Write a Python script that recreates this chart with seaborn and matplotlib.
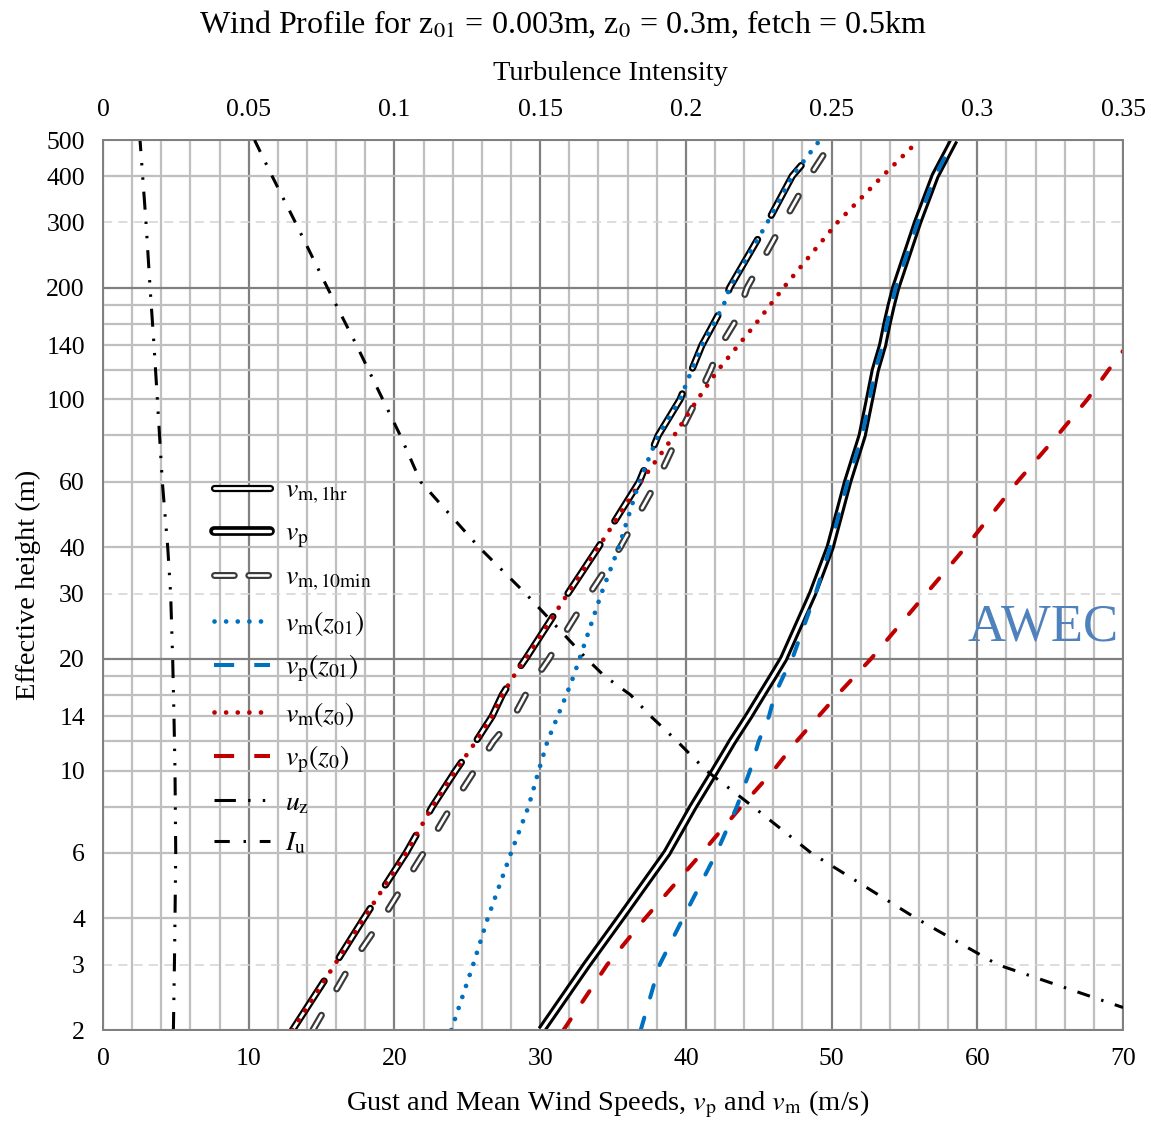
import numpy as np
import pandas as pd
import matplotlib
matplotlib.use("Agg")
import matplotlib.pyplot as plt
import matplotlib.patheffects as pe
from matplotlib.lines import Line2D
import seaborn as sns

# ---------------- data ----------------
z_grid = [2, 3, 4, 6, 8, 10, 12, 14, 16, 18, 20, 30, 40, 60, 80, 100,
          120, 140, 160, 180, 200, 300, 400, 500]

vm_z0 = [13.0, 15.9, 17.9, 20.8, 22.6, 24.2, 25.6, 26.7, 27.4, 28.2, 29.0,
         31.9, 34.0, 36.9, 39.2, 40.8, 42.2, 43.6, 44.8, 45.8, 46.7, 50.4,
         53.5, 56.0]
vm_z01 = [23.9, 25.4, 26.4, 28.0, 29.2, 29.9, 30.5, 31.2, 31.8, 32.3, 32.7,
          34.2, 35.4, 36.8, 38.1, 39.6, 40.4, 41.1, 41.9, 42.6, 43.0, 45.6,
          47.3, 49.2]
z_1hr = [2, 3, 4, 6, 8, 10, 12, 14, 16, 18, 20, 30, 40, 60, 80, 100,
         120, 140, 160, 180, 200, 300, 400, 440]
vm_1hr = [13.0, 15.9, 17.9, 20.8, 22.6, 24.2, 25.6, 26.7, 27.4, 28.2, 29.0,
          31.9, 34.0, 36.8, 38.1, 39.6, 40.4, 41.1, 41.9, 42.6, 43.0, 45.6,
          47.3, 48.2]
vm_10min = [14.4, 17.0, 19.2, 22.0, 23.9, 25.5, 26.8, 28.2, 29.0, 29.8, 30.6,
            33.4, 35.5, 38.0, 39.5, 40.75, 41.7, 42.4, 43.3, 43.8, 44.2, 46.7,
            48.5, 50.1]
vp = [30.1, 33.2, 35.5, 38.7, 40.5, 42.0, 43.2, 44.3, 45.2, 46.0, 46.7,
      48.7, 49.9, 51.1, 52.1, 52.6, 53.0, 53.5, 53.8, 54.1, 54.4, 55.9,
      57.1, 58.4]
vp_z01 = [36.9, 38.2, 39.8, 42.1, 43.5, 44.4, 45.0, 45.7, 46.1, 46.7, 47.3,
          48.9, 49.9, 51.1, 52.1, 52.6, 53.0, 53.5, 53.8, 54.1, 54.4, 55.9,
          57.1, 58.4]
z_vpz0 = [2, 3, 4, 6, 8, 10, 12, 14, 16, 20, 30, 40, 60, 80, 100, 120, 140]
vp_z0 = [31.6, 34.6, 37.2, 41.1, 43.8, 46.0, 47.6, 49.1, 50.4, 52.7, 56.5,
         59.2, 62.75, 65.5, 67.55, 69.0, 70.3]

z_uz = [2, 3, 4, 6, 10, 14, 20, 30, 40, 60, 100, 140, 200, 300, 400, 500]
u_z = [4.83, 4.90, 4.94, 4.99, 4.94, 4.87, 4.78, 4.64, 4.44, 4.07, 3.73,
       3.50, 3.23, 2.95, 2.72, 2.54]

z_iu = [500, 400, 300, 200, 140, 100, 80, 60, 40, 30, 20, 18, 16, 14, 12,
        10, 8, 6, 4, 3, 2.3]
I_u = [0.052, 0.058, 0.066, 0.077, 0.087, 0.096, 0.102, 0.109, 0.129, 0.145,
       0.166, 0.172, 0.181, 0.188, 0.197, 0.207, 0.223, 0.243, 0.279, 0.307,
       0.350]

y_tick_labels = [2, 3, 4, 6, 10, 14, 20, 30, 40, 60, 100, 140, 200, 300, 400, 500]
y_minor = [8, 12, 16, 18, 80, 120, 160, 180]
x_ticks = [0, 10, 20, 30, 40, 50, 60, 70]
ti_ticks = [0, 0.05, 0.1, 0.15, 0.2, 0.25, 0.3, 0.35]
ti_labels = ["0", "0.05", "0.1", "0.15", "0.2", "0.25", "0.3", "0.35"]

# ---------------- style ----------------
sns.set_theme(style="white")
plt.rcParams["font.family"] = ["Liberation Serif", "DejaVu Serif"]
plt.rcParams["mathtext.fontset"] = "stix"
plt.rcParams["text.color"] = "black"
plt.rcParams["axes.labelcolor"] = "black"
plt.rcParams["xtick.color"] = "black"
plt.rcParams["ytick.color"] = "black"

BLUE = "#0070C0"
RED = "#C00000"
LIGHT = "#BFBFBF"
DARK = "#808080"

fig = plt.figure(figsize=(11.51, 11.24), dpi=100)
ax = fig.add_axes([0.0895, 0.0836, 0.8862, 0.7918])
ax.set_yscale("log")
ax.set_xlim(0, 70)
ax.set_ylim(2, 500)


def hollow(outer, color="black"):
    return [pe.Stroke(linewidth=outer, foreground=color), pe.Normal()]


def line(x, y, **kw):
    df = pd.DataFrame({"x": x, "y": y})
    sns.lineplot(data=df, x="x", y="y", sort=False, estimator=None, ax=ax, **kw)


# hollow black curves
line(vm_10min, z_grid, color="white", lw=1.9, linestyle=(0, (6.5, 11.5)),
     dash_capstyle="round", path_effects=hollow(5.0, "#3A3A3A"), zorder=3)
line(vm_1hr, z_1hr, color="white", lw=2.0, linestyle=(0, (21, 10)),
     dash_capstyle="round", path_effects=hollow(5.2), zorder=3)
line(vp, z_grid, color="white", lw=2.2, path_effects=hollow(6.6),
     solid_capstyle="butt", zorder=3)

# coloured profiles
dot = (0, (0.01, 2.45))
dash = (0, (3.2, 5.2))
line(vm_z0, z_grid, color=RED, lw=3.4, linestyle=dot, dash_capstyle="round", zorder=4)
line(vm_z01, z_grid, color=BLUE, lw=3.4, linestyle=dot, dash_capstyle="round", zorder=4)
line(vp_z0, z_vpz0, color=RED, lw=2.9, linestyle=dash, dash_capstyle="round", zorder=4)
line(vp_z01, z_grid, color=BLUE, lw=2.9, linestyle=dash, dash_capstyle="round", zorder=4)

uz_style = (0, (5.9, 3.9, 0.8, 3.9, 0.8, 3.9))
iu_style = (0, (4.3, 3.9, 0.8, 3.9))
line(u_z, z_uz, color="black", lw=2.2, linestyle=uz_style, zorder=4)

# top axis: turbulence intensity
ax2 = ax.twiny()
ax2.set_xlim(0, 0.35)
df_iu = pd.DataFrame({"x": I_u, "y": z_iu})
sns.lineplot(data=df_iu, x="x", y="y", sort=False, estimator=None, ax=ax2,
             color="black", lw=2.2, linestyle=iu_style, zorder=4)

# ---------------- axes / grid ----------------
ax.set_yticks(y_tick_labels)
ax.set_yticklabels([str(v) for v in y_tick_labels])
ax.set_yticks(y_minor, minor=True)
ax.set_yticklabels([], minor=True)
ax.set_xticks(x_ticks)
ax.set_xticks(np.arange(0, 71, 2), minor=True)
ax.grid(True, which="both", color=LIGHT, lw=1.6)
ax.set_axisbelow(True)

for t, v in zip(ax.yaxis.get_major_ticks(), y_tick_labels):
    gl = t.gridline
    if v in (3, 30, 300):
        gl.set_linestyle((0, (6, 4)))
        gl.set_color("#D3D3D3")
        gl.set_linewidth(1.1)
    elif v in (20, 200):
        gl.set_color(DARK)
        gl.set_linewidth(1.6)
for t in ax.xaxis.get_major_ticks():
    t.gridline.set_color(DARK)
    t.gridline.set_linewidth(1.6)

ax.tick_params(axis="both", which="both", length=0, labelsize=18.5, labelcolor="black")
ax.tick_params(axis="x", pad=13)
ax.tick_params(axis="y", pad=13)
for s in ax.spines.values():
    s.set_color(DARK)
    s.set_linewidth(1.4)

ax2.set_xticks(ti_ticks)
ax2.set_xticklabels(ti_labels)
ax2.tick_params(axis="x", length=0, labelsize=18.5, pad=14, labelcolor="black")
ax2.grid(False)
for s in ax2.spines.values():
    s.set_color(DARK)
    s.set_linewidth(1.4)
ax2.set_ylim(2, 500)

ax.set_xlabel("Gust and Mean Wind Speeds, $v_\\mathrm{p}$ and $v_\\mathrm{m}$ (m/s)",
              fontsize=20.5, color="black")
ax.xaxis.set_label_coords(0.495, -0.084)
ax.xaxis.label.set_va("center")
ax.set_ylabel("Effective height (m)", fontsize=20.5, color="black")
ax.yaxis.set_label_coords(-0.073, 0.5)
ax.yaxis.label.set_va("center")
ax2.set_xlabel("Turbulence Intensity", fontsize=20.5, color="black")
ax2.xaxis.set_label_coords(0.497, 1.075)
ax2.xaxis.label.set_va("center")
ax2.set_ylabel("")

fig.text(0.489, 0.978, "Wind Profile for z$_{01}$ = 0.003m, z$_{0}$ = 0.3m, fetch = 0.5km",
         ha="center", va="center", fontsize=23, color="black")

ax.text(0.9216, 0.452, "AWEC", transform=ax.transAxes, ha="center", va="center",
        fontsize=38, color="#4F81BD", zorder=5)

# ---------------- legend ----------------
handles = [
    Line2D([], [], color="white", lw=2.0, path_effects=hollow(5.2), solid_capstyle="round"),
    Line2D([], [], color="white", lw=2.4, path_effects=hollow(7.0), solid_capstyle="round"),
    Line2D([], [], color="white", lw=1.9, linestyle=(0, (7.5, 5.5)), dash_capstyle="round",
           path_effects=hollow(5.0, "#3A3A3A")),
    Line2D([], [], color=BLUE, lw=3.4, linestyle=dot, dash_capstyle="round"),
    Line2D([], [], color=BLUE, lw=2.9, linestyle=(0, (5, 5))),
    Line2D([], [], color=RED, lw=3.4, linestyle=dot, dash_capstyle="round"),
    Line2D([], [], color=RED, lw=2.9, linestyle=(0, (5, 5))),
    Line2D([], [], color="black", lw=2.2, linestyle=(0, (7, 4, 0.8, 4, 0.8, 4))),
    Line2D([], [], color="black", lw=2.2, linestyle=(0, (5, 4.5, 0.8, 4.5))),
]
labels = ["$v_{\\mathrm{m,1hr}}$", "$v_{\\mathrm{p}}$", "$v_{\\mathrm{m,10min}}$",
          "$v_{\\mathrm{m}}(z_{01})$", "$v_{\\mathrm{p}}(z_{01})$",
          "$v_{\\mathrm{m}}(z_{0})$", "$v_{\\mathrm{p}}(z_{0})$",
          "$u_{\\mathrm{z}}$", "$I_{\\mathrm{u}}$"]
leg = ax.legend(handles, labels, loc="upper left", bbox_to_anchor=(0.109, 0.620),
                frameon=False, fontsize=20, handlelength=2.0, handletextpad=0.55,
                labelspacing=0.55, borderaxespad=0, borderpad=0)
leg.set_zorder(6)

fig.savefig("out.png", dpi=100)
